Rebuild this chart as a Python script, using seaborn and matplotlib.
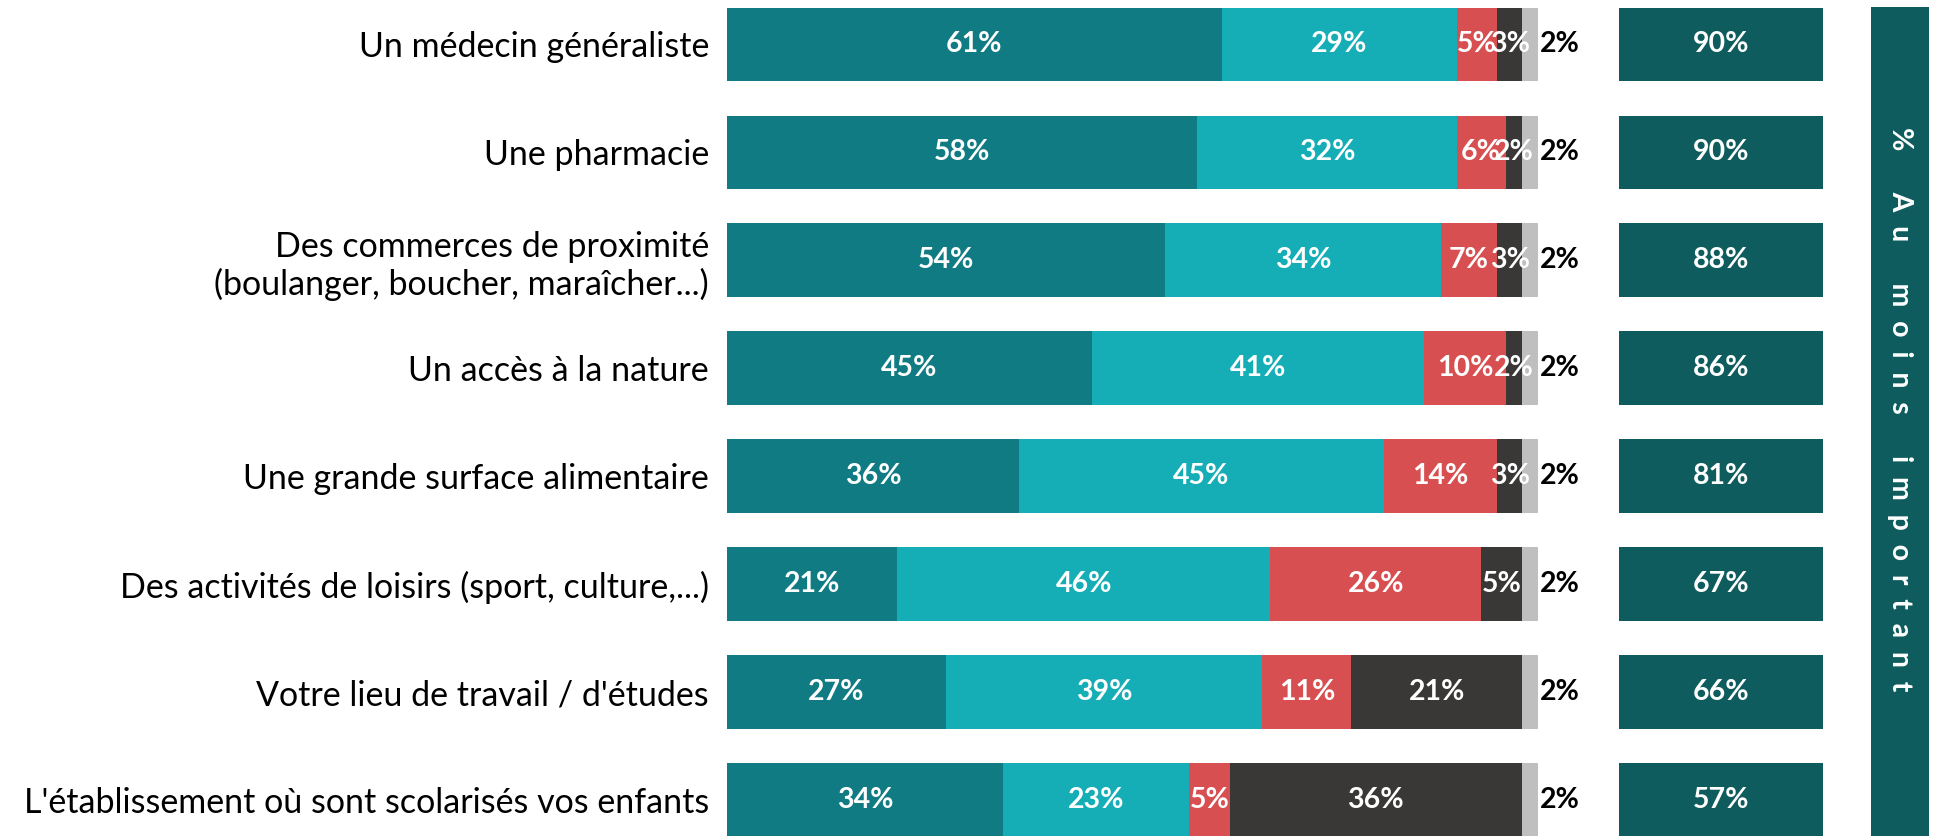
import matplotlib

matplotlib.use("Agg")

import matplotlib.pyplot as plt
import numpy as np
import seaborn as sns

# Data
CATEGORIES = [
    "Un médecin généraliste",
    "Une pharmacie",
    "Des commerces de proximité\n(boulanger, boucher, maraîcher...)",
    "Un accès à la nature",
    "Une grande surface alimentaire",
    "Des activités de loisirs (sport, culture,...)",
    "Votre lieu de travail / d'études",
    "L'établissement où sont scolarisés vos enfants",
]
TRES_IMPORTANT = [61, 58, 54, 45, 36, 21, 27, 34]
ASSEZ_IMPORTANT = [29, 32, 34, 41, 45, 46, 39, 23]
PEU_IMPORTANT = [5, 6, 7, 10, 14, 26, 11, 5]
PAS_CONCERNE = [3, 2, 3, 2, 3, 5, 21, 36]
NSP = [2, 2, 2, 2, 2, 2, 2, 2]
AU_MOINS_IMPORTANT = [90, 90, 88, 86, 81, 67, 66, 57]
BAND_TITLE = "% Au moins important"

SERIES = [TRES_IMPORTANT, ASSEZ_IMPORTANT, PEU_IMPORTANT, PAS_CONCERNE, NSP]
COLORS = ["#107B82", "#15AEB6", "#D84F51", "#3A3837", "#BFBFBF"]
BOX_COLOR = "#0E5C5E"

W, H = 1943, 836
BAR_W = 0.685

sns.set_theme(style="white")
plt.rcParams["font.family"] = ["Lato", "DejaVu Sans"]

fig = plt.figure(figsize=(W / 100, H / 100), dpi=100)

# main stacked bars
ax = fig.add_axes([727 / W, 0, (1538 - 727) / W, 1])
values = np.array(SERIES, dtype=float)
cums = np.cumsum(values, axis=0)
for k in range(len(SERIES) - 1, -1, -1):
    sns.barplot(
        x=cums[k],
        y=CATEGORIES,
        orient="h",
        color=COLORS[k],
        saturation=1,
        width=BAR_W,
        linewidth=0,
        ax=ax,
    )

for k, series in enumerate(SERIES):
    for i, v in enumerate(series):
        if k == len(SERIES) - 1:
            ax.text(cums[k][i] + 0.2, i, f"{v}%", ha="left", va="center",
                    fontsize=20.5, fontweight="bold", color="black")
        else:
            ax.text(cums[k][i] - v / 2, i, f"{v}%", ha="center", va="center",
                    fontsize=20.5, fontweight="bold", color="white")

ax.set_xlim(0, 100)
ax.set_ylim(7.329, -0.412)
ax.set_xlabel("")
ax.set_ylabel("")
ax.set_xticks([])
ax.tick_params(axis="y", length=0, pad=13, labelsize=24.5)
for lbl in ax.get_yticklabels():
    lbl.set_color("black")
    lbl.set_multialignment("right")
sns.despine(ax=ax, left=True, bottom=True)

# right column: totals (bars clipped by the axis range to equal boxes)
ax2 = fig.add_axes([1619 / W, 0, (1823 - 1619) / W, 1])
sns.barplot(
    x=AU_MOINS_IMPORTANT,
    y=CATEGORIES,
    orient="h",
    color=BOX_COLOR,
    saturation=1,
    width=BAR_W,
    linewidth=0,
    ax=ax2,
)
ax2.set_xlim(0, 50)
ax2.set_ylim(7.329, -0.412)
for i, v in enumerate(AU_MOINS_IMPORTANT):
    ax2.text(25, i, f"{v}%", ha="center", va="center",
             fontsize=20.5, fontweight="bold", color="white")
ax2.set_xticks([])
ax2.set_yticks([])
ax2.set_xlabel("")
ax2.set_ylabel("")
sns.despine(ax=ax2, left=True, bottom=True)

# vertical title band
ax3 = fig.add_axes([1871 / W, 0, (1929 - 1871) / W, (H - 7) / H])
ax3.set_facecolor(BOX_COLOR)
ax3.set_xticks([])
ax3.set_yticks([])
for s in ax3.spines.values():
    s.set_visible(False)
spaced = "      ".join("  ".join(word) for word in BAND_TITLE.split(" "))
ax3.text(0.5, 0.515, spaced, rotation=270, ha="center", va="center",
         fontsize=20.5, fontweight="bold", color="white", transform=ax3.transAxes)

fig.savefig("out.png", dpi=100)
